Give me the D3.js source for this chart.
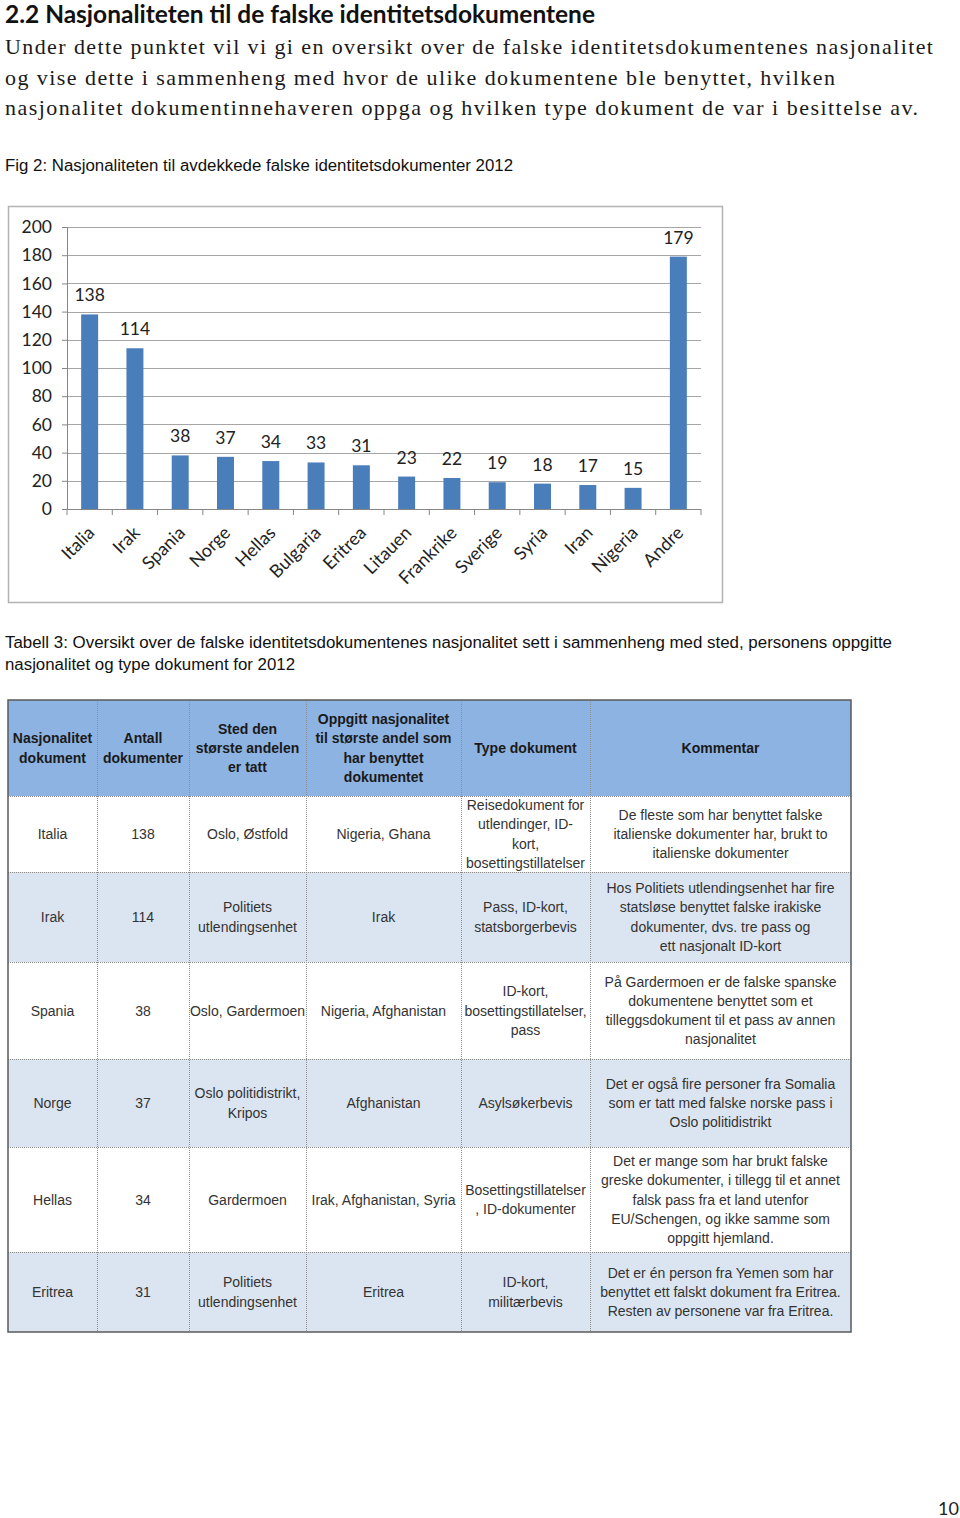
<!DOCTYPE html>
<html>
<head>
<meta charset="utf-8">
<script src="https://cdn.jsdelivr.net/npm/d3@7"></script>
<style>
  body { margin: 0; background: #fff; }
  svg { display: block; }
</style>
</head>
<body>
<svg id="page" width="960" height="1518"></svg>
<script>
// ---- chart data ----
var countries = ["Italia", "Irak", "Spania", "Norge", "Hellas", "Bulgaria", "Eritrea",
                 "Litauen", "Frankrike", "Sverige", "Syria", "Iran", "Nigeria", "Andre"];
var counts = [138, 114, 38, 37, 34, 33, 31, 23, 22, 19, 18, 17, 15, 179];
var yTicks = [0, 20, 40, 60, 80, 100, 120, 140, 160, 180, 200];

// ---- page texts ----
var heading = "2.2 Nasjonaliteten til de falske identitetsdokumentene";
var introLines = [
  "Under dette punktet vil vi gi en oversikt over de falske identitetsdokumentenes nasjonalitet",
  "og vise dette i sammenheng med hvor de ulike dokumentene ble benyttet, hvilken",
  "nasjonalitet dokumentinnehaveren oppga og hvilken type dokument de var i besittelse av."
];
var figCaption = "Fig 2: Nasjonaliteten til avdekkede falske identitetsdokumenter 2012";
var tableCaption = [
  "Tabell 3: Oversikt over de falske identitetsdokumentenes nasjonalitet sett i sammenheng med sted, personens oppgitte",
  "nasjonalitet og type dokument for 2012"
];
var pageNumber = "10";

// ---- table data ----
var tableHeader = [
  ["Nasjonalitet", "dokument"],
  ["Antall", "dokumenter"],
  ["Sted den", "største andelen", "er tatt"],
  ["Oppgitt nasjonalitet", "til største andel som", "har benyttet", "dokumentet"],
  ["Type dokument"],
  ["Kommentar"]
];
var tableRows = [
  [["Italia"], ["138"], ["Oslo, Østfold"], ["Nigeria, Ghana"],
   ["Reisedokument for", "utlendinger, ID-", "kort,", "bosettingstillatelser"],
   ["De fleste som har benyttet falske", "italienske dokumenter har, brukt to", "italienske dokumenter"]],
  [["Irak"], ["114"], ["Politiets", "utlendingsenhet"], ["Irak"],
   ["Pass, ID-kort,", "statsborgerbevis"],
   ["Hos Politiets utlendingsenhet har fire", "statsløse benyttet falske irakiske", "dokumenter, dvs. tre pass og", "ett nasjonalt ID-kort"]],
  [["Spania"], ["38"], ["Oslo, Gardermoen"], ["Nigeria, Afghanistan"],
   ["ID-kort,", "bosettingstillatelser,", "pass"],
   ["På Gardermoen er de falske spanske", "dokumentene benyttet som et", "tilleggsdokument til et pass av annen", "nasjonalitet"]],
  [["Norge"], ["37"], ["Oslo politidistrikt,", "Kripos"], ["Afghanistan"],
   ["Asylsøkerbevis"],
   ["Det er også fire personer fra Somalia", "som er tatt med falske norske pass i", "Oslo politidistrikt"]],
  [["Hellas"], ["34"], ["Gardermoen"], ["Irak, Afghanistan, Syria"],
   ["Bosettingstillatelser", ", ID-dokumenter"],
   ["Det er mange som har brukt falske", "greske dokumenter, i tillegg til et annet", "falsk pass fra et land utenfor", "EU/Schengen, og ikke samme som", "oppgitt hjemland."]],
  [["Eritrea"], ["31"], ["Politiets", "utlendingsenhet"], ["Eritrea"],
   ["ID-kort,", "militærbevis"],
   ["Det er én person fra Yemen som har", "benyttet ett falskt dokument fra Eritrea.", "Resten av personene var fra Eritrea."]]
];
var rowShaded = [false, true, false, true, false, true];

// ---- layout ----
var colEdges = [8, 97, 189, 306, 461, 590, 851];
var rowEdges = [700, 796, 872, 962, 1059, 1147, 1252, 1332];
var lineStep = 19.3;

var svg = d3.select("#page");

// heading + intro
svg.append("text")
  .attr("x", 5).attr("y", 23)
  .attr("font-family", "Lato, 'Open Sans', sans-serif")
  .attr("font-weight", 700)
  .attr("font-size", 24)
  .attr("fill", "#111")
  .attr("textLength", 590).attr("lengthAdjust", "spacingAndGlyphs")
  .text(heading);

var introWidths = [928, 830, 913];
svg.selectAll(".intro").data(introLines).enter().append("text")
  .attr("class", "intro")
  .attr("x", 5)
  .attr("y", function (d, i) { return 54 + i * 30.5; })
  .attr("font-family", "'Liberation Serif', 'DejaVu Serif', serif")
  .attr("font-size", 22)
  .attr("fill", "#1a1a1a")
  .attr("textLength", function (d, i) { return introWidths[i]; })
  .attr("lengthAdjust", "spacing")
  .text(function (d) { return d; });

svg.append("text")
  .attr("x", 5).attr("y", 171)
  .attr("font-family", "'Liberation Sans', Arial, sans-serif")
  .attr("font-size", 16)
  .attr("fill", "#111")
  .attr("textLength", 508).attr("lengthAdjust", "spacingAndGlyphs")
  .text(figCaption);

// ---- bar chart ----
svg.append("rect")
  .attr("x", 8.5).attr("y", 206.5).attr("width", 714).attr("height", 396)
  .attr("fill", "#fff").attr("stroke", "#b3b3b3").attr("stroke-width", 1.5);

var plotLeft = 67, plotRight = 701, plotTop = 227, plotBottom = 509;

var x = d3.scaleBand()
  .domain(countries)
  .range([plotLeft, plotRight])
  .paddingInner(0.625)
  .paddingOuter(0.3125);

var y = d3.scaleLinear().domain([0, 200]).range([plotBottom, plotTop]);

var chart = svg.append("g").attr("class", "chart");

chart.selectAll(".grid").data(yTicks.filter(function (t) { return t > 0; }))
  .enter().append("line")
  .attr("class", "grid")
  .attr("x1", plotLeft).attr("x2", plotRight)
  .attr("y1", function (d) { return Math.round(y(d)) + 0.5; })
  .attr("y2", function (d) { return Math.round(y(d)) + 0.5; })
  .attr("stroke", "#a6a6a6").attr("stroke-width", 1);

var yAxis = chart.append("g")
  .attr("transform", "translate(" + plotLeft + ",0)")
  .call(d3.axisLeft(y).tickValues(yTicks).tickSize(5).tickPadding(10));
yAxis.select(".domain").attr("stroke", "#868686");
yAxis.selectAll(".tick line").attr("stroke", "#868686");
yAxis.selectAll(".tick text")
  .attr("font-family", "Lato, 'Open Sans', sans-serif")
  .attr("font-size", 17.5)
  .attr("fill", "#222");

chart.selectAll(".bar").data(countries).enter().append("rect")
  .attr("class", "bar")
  .attr("x", function (d) { return x(d); })
  .attr("width", x.bandwidth())
  .attr("y", function (d, i) { return y(counts[i]); })
  .attr("height", function (d, i) { return plotBottom - y(counts[i]); })
  .attr("fill", "#4a7ebb");

chart.selectAll(".val").data(countries).enter().append("text")
  .attr("class", "val")
  .attr("x", function (d) { return x(d) + x.bandwidth() / 2; })
  .attr("y", function (d, i) { return y(counts[i]) - 13; })
  .attr("text-anchor", "middle")
  .attr("font-family", "Lato, 'Open Sans', sans-serif")
  .attr("font-size", 17.5)
  .attr("fill", "#222")
  .text(function (d, i) { return counts[i]; });

// x axis
chart.append("line")
  .attr("x1", plotLeft).attr("x2", plotRight)
  .attr("y1", plotBottom + 0.5).attr("y2", plotBottom + 0.5)
  .attr("stroke", "#868686");
chart.selectAll(".xtick").data(d3.range(countries.length + 1)).enter().append("line")
  .attr("class", "xtick")
  .attr("x1", function (i) { return plotLeft + i * x.step(); })
  .attr("x2", function (i) { return plotLeft + i * x.step(); })
  .attr("y1", plotBottom).attr("y2", plotBottom + 6)
  .attr("stroke", "#868686");

chart.selectAll(".xlab").data(countries).enter().append("text")
  .attr("class", "xlab")
  .attr("transform", function (d) {
    return "translate(" + (x(d) + x.bandwidth() / 2 + 6) + "," + (plotBottom + 25) + ") rotate(-45)";
  })
  .attr("text-anchor", "end")
  .attr("font-family", "Lato, 'Open Sans', sans-serif")
  .attr("font-size", 18)
  .attr("fill", "#222")
  .text(function (d) { return d; });

// ---- table caption ----
var tcapWidths = [887, 290];
svg.selectAll(".tcap").data(tableCaption).enter().append("text")
  .attr("class", "tcap")
  .attr("x", 5)
  .attr("y", function (d, i) { return 648 + i * 22; })
  .attr("font-family", "'Liberation Sans', Arial, sans-serif")
  .attr("font-size", 16)
  .attr("fill", "#111")
  .attr("textLength", function (d, i) { return tcapWidths[i]; })
  .attr("lengthAdjust", "spacingAndGlyphs")
  .text(function (d) { return d; });

// ---- table ----
var table = svg.append("g").attr("class", "table");
var allRows = [tableHeader].concat(tableRows);

allRows.forEach(function (row, r) {
  var top = rowEdges[r], bottom = rowEdges[r + 1];
  table.append("rect")
    .attr("x", colEdges[0]).attr("y", top)
    .attr("width", colEdges[colEdges.length - 1] - colEdges[0])
    .attr("height", bottom - top)
    .attr("fill", r === 0 ? "#8db3e2" : (rowShaded[r - 1] ? "#dbe5f1" : "#ffffff"));

  row.forEach(function (lines, c) {
    var cx = (colEdges[c] + colEdges[c + 1]) / 2;
    var cy = (top + bottom) / 2;
    table.selectAll(null).data(lines).enter().append("text")
      .attr("x", cx)
      .attr("y", function (d, i) { return cy + (i - (lines.length - 1) / 2) * lineStep; })
      .attr("dy", "0.36em")
      .attr("text-anchor", "middle")
      .attr("font-family", "'Liberation Sans', Arial, sans-serif")
      .attr("font-size", r === 0 ? 14 : 14)
      .attr("font-weight", r === 0 ? 700 : 400)
      .attr("fill", r === 0 ? "#1a1a1a" : "#333")
      .text(function (d) { return d; });
  });
});

// grid lines (dotted)
table.selectAll(".hline").data(rowEdges.slice(1, -1)).enter().append("line")
  .attr("x1", colEdges[0]).attr("x2", colEdges[colEdges.length - 1])
  .attr("y1", function (d) { return d + 0.5; }).attr("y2", function (d) { return d + 0.5; })
  .attr("stroke", "#8c8c8c").attr("stroke-dasharray", "1,1");
table.selectAll(".vline").data(colEdges.slice(1, -1)).enter().append("line")
  .attr("x1", function (d) { return d + 0.5; }).attr("x2", function (d) { return d + 0.5; })
  .attr("y1", rowEdges[0]).attr("y2", rowEdges[rowEdges.length - 1])
  .attr("stroke", "#8c8c8c").attr("stroke-dasharray", "1,1");
table.append("rect")
  .attr("x", colEdges[0]).attr("y", rowEdges[0])
  .attr("width", colEdges[colEdges.length - 1] - colEdges[0])
  .attr("height", rowEdges[rowEdges.length - 1] - rowEdges[0])
  .attr("fill", "none").attr("stroke", "#5a5a5a").attr("stroke-width", 1.5);

// page number
svg.append("text")
  .attr("x", 959).attr("y", 1515)
  .attr("text-anchor", "end")
  .attr("font-family", "Lato, 'Open Sans', sans-serif")
  .attr("font-size", 18)
  .attr("fill", "#222")
  .text(pageNumber);
</script>
</body>
</html>
